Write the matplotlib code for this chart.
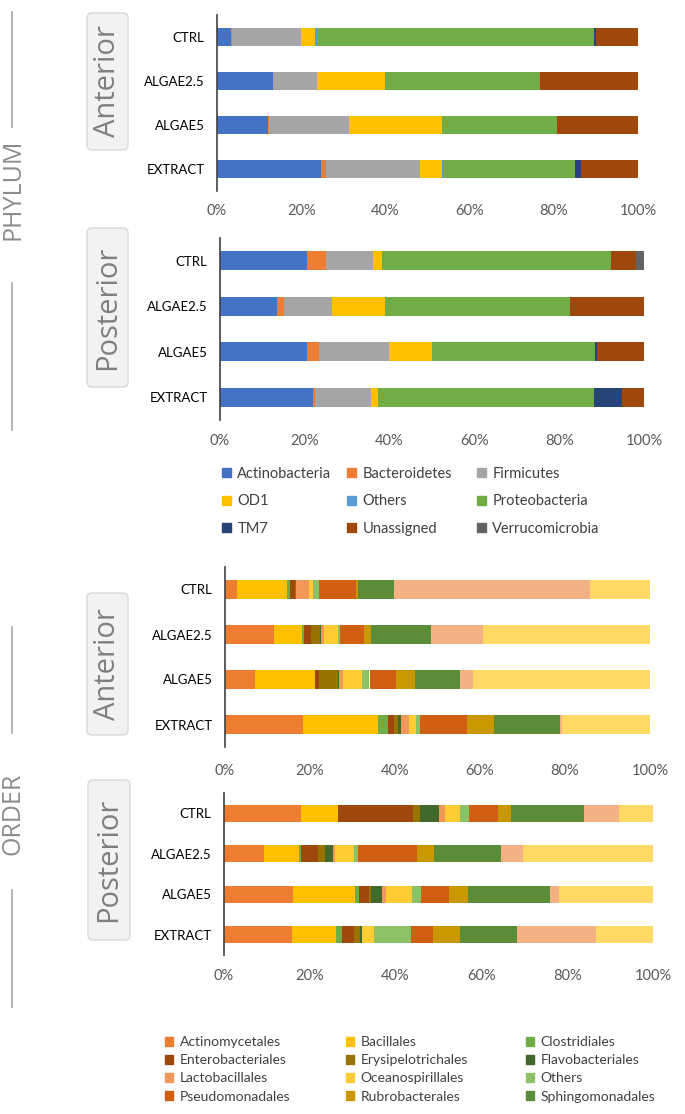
import matplotlib
matplotlib.use("Agg")
import matplotlib.pyplot as plt
from matplotlib.patches import FancyBboxPatch, Patch
from matplotlib.ticker import PercentFormatter
import numpy as np

W, H = 685, 1114

samples = ["CTRL", "ALGAE2.5", "ALGAE5", "EXTRACT"]

# ---- phylum level (% of reads) ----
phyla = ["Actinobacteria", "Bacteroidetes", "Firmicutes", "OD1", "Others",
         "Proteobacteria", "TM7", "Unassigned", "Verrucomicrobia"]
phyla_colors = ["#4472C4", "#ED7D31", "#A5A5A5", "#FFC000", "#5B9BD5",
                "#70AD47", "#264478", "#9E480E", "#636363"]

# rows: CTRL, ALGAE2.5, ALGAE5, EXTRACT ; cols follow `phyla`
phylum_anterior = [
    [3.4, 0.2, 16.3, 3.4, 0.4, 65.8, 0.6, 9.9, 0.0],
    [13.4, 0.0, 10.3, 16.2, 0.0, 36.9, 0.0, 23.2, 0.0],
    [12.0, 0.4, 19.0, 22.0, 0.0, 27.4, 0.0, 19.2, 0.0],
    [24.7, 1.1, 22.5, 5.1, 0.6, 31.0, 1.5, 13.5, 0.0],
]
phylum_posterior = [
    [20.6, 4.3, 11.2, 2.0, 0.0, 54.0, 0.0, 5.9, 2.0],
    [13.5, 1.7, 11.2, 12.6, 0.0, 43.6, 0.0, 17.4, 0.0],
    [20.6, 2.7, 16.6, 10.1, 0.0, 38.5, 0.4, 11.1, 0.0],
    [22.0, 0.4, 13.3, 1.6, 0.0, 51.0, 6.4, 5.3, 0.0],
]

# ---- order level (% of reads) ----
orders = ["Actinomycetales", "Bacillales", "Clostridiales", "Enterobacteriales",
          "Erysipelotrichales", "Flavobacteriales", "Lactobacillales",
          "Oceanospirillales", "Others", "Pseudomonadales", "Rubrobacterales",
          "Sphingomonadales", "Unlisted A", "Unlisted B"]
orders_colors = ["#ED7D31", "#FFC000", "#70AD47", "#9E480E", "#997300", "#43682B",
                 "#F1975A", "#FFCD33", "#8CC168", "#D05F12", "#C99700", "#5B8C3A",
                 "#F4B183", "#FFD966"]
n_order_legend = 12  # legend in the source only lists the first 12

order_anterior = [
    [2.9, 11.8, 0.5, 1.2, 0.2, 0.0, 3.1, 1.1, 1.3, 8.7, 0.5, 8.5, 46.1, 14.1],
    [11.5, 6.7, 0.4, 1.6, 2.2, 0.1, 0.9, 3.1, 0.5, 5.6, 1.7, 14.2, 12.1, 39.4],
    [7.1, 14.0, 0.1, 1.0, 4.3, 0.4, 0.9, 4.5, 1.7, 6.2, 4.5, 10.5, 3.2, 41.6],
    [18.3, 17.6, 2.4, 1.4, 0.9, 0.9, 1.7, 1.7, 1.0, 11.0, 6.4, 15.5, 0.4, 20.8],
]
order_posterior = [
    [17.9, 8.6, 0.0, 17.5, 1.6, 4.5, 1.3, 3.7, 2.0, 6.8, 3.0, 17.0, 8.2, 7.9],
    [9.3, 8.1, 0.6, 4.0, 1.6, 1.7, 0.6, 4.4, 0.9, 13.8, 4.0, 15.6, 5.2, 30.2],
    [16.0, 14.6, 0.9, 2.3, 0.5, 2.6, 0.8, 6.1, 2.2, 6.5, 4.4, 19.1, 2.1, 21.9],
    [15.9, 10.1, 1.4, 2.9, 1.5, 0.4, 0.0, 2.8, 8.7, 5.1, 6.1, 13.3, 18.4, 13.4],
]

SMALL = "Lato"
BIG = "Open Sans"

fig = plt.figure(figsize=(W / 100, H / 100), dpi=100)

# overlay in pixel units for the side labels / boxes
deco = fig.add_axes([0, 0, 1, 1], zorder=0)
deco.set_xlim(0, W)
deco.set_ylim(H, 0)
deco.axis("off")


def px_axes(left, right, top, bottom):
    return fig.add_axes([left / W, 1 - bottom / H, (right - left) / W, (bottom - top) / H], zorder=2)


def stacked(ax, data, colors, xpad):
    data = np.array(data) / 100.0
    y = np.arange(len(samples))
    left = np.zeros(len(samples))
    for j in range(data.shape[1]):
        ax.barh(y, data[:, j], left=left, height=0.41, color=colors[j], linewidth=0)
        left += data[:, j]
    ax.set_xlim(0, 1)
    ax.set_ylim(len(samples) - 0.5, -0.5)
    ax.set_yticks(y)
    ax.set_yticklabels(samples, fontsize=9.5, family=SMALL, color="black")
    ax.set_xticks(np.arange(0, 1.01, 0.2))
    ax.xaxis.set_major_formatter(PercentFormatter(1.0, decimals=0))
    ax.tick_params(axis="x", length=0, pad=xpad, labelsize=10.5, labelcolor="#595959")
    ax.tick_params(axis="y", length=0, pad=9)
    for lab in ax.get_xticklabels():
        lab.set_family(SMALL)
    for s in ["top", "right", "bottom"]:
        ax.spines[s].set_visible(False)
    ax.spines["left"].set_color("#404040")
    ax.spines["left"].set_linewidth(1.2)
    ax.patch.set_alpha(0)


def column_legends(handles, xs, top, size, spacing):
    # one legend per column so the columns sit at fixed x like the Excel legend
    ncol = len(xs)
    for c, x in enumerate(xs):
        fig.legend(handles=handles[c::ncol], loc="upper left",
                   bbox_to_anchor=(x / W, 1 - top / H), ncol=1, frameon=False,
                   borderpad=0, borderaxespad=0,
                   prop={"family": SMALL, "size": size}, labelcolor="#404040",
                   handlelength=0.6, handleheight=0.6, handletextpad=0.45,
                   labelspacing=spacing)


ax1 = px_axes(217, 638, 15, 191)
stacked(ax1, phylum_anterior, phyla_colors, 9.5)
ax2 = px_axes(220, 644, 238, 420)
stacked(ax2, phylum_posterior, phyla_colors, 10)
ax3 = px_axes(225, 650, 567, 747)
stacked(ax3, order_anterior, orders_colors, 12)
ax4 = px_axes(224, 653, 793, 955)
stacked(ax4, order_posterior, orders_colors, 10)

# legends
ph_handles = [Patch(color=c, label=n) for n, c in zip(phyla, phyla_colors)]
column_legends(ph_handles, [222, 347, 477], 467, 10.5, 0.92)

od_handles = [Patch(color=c, label=n) for n, c in
              zip(orders[:n_order_legend], orders_colors[:n_order_legend])]
column_legends(od_handles, [165, 346, 526], 1036, 10, 0.45)

# side boxes: (label, x0, y0, x1, y1)
boxes = [("Anterior", 87, 13, 128, 150), ("Posterior", 87, 228, 128, 387),
         ("Anterior", 87, 593, 128, 735), ("Posterior", 88, 780, 130, 940)]
for txt, x0, y0, x1, y1 in boxes:
    deco.add_patch(FancyBboxPatch((x0 + 5, y0 + 5), x1 - x0 - 10, y1 - y0 - 10,
                                  boxstyle="round,pad=5", facecolor="#F2F2F2",
                                  edgecolor="#D9D9D9", linewidth=1))
    deco.text((x0 + x1) / 2, (y0 + y1) / 2, txt, rotation=90, ha="center", va="center",
              fontsize=21, family=BIG, color="#7F7F7F")

# big group labels with the thin rules above and below
groups = [("PHYLUM", 189, 12, 127, 283, 430), ("ORDER", 814, 627, 733, 890, 1007)]
for txt, yc, a0, a1, b0, b1 in groups:
    deco.text(13, yc, txt, rotation=90, ha="center", va="center",
              fontsize=18, family=BIG, color="#8C8C8C")
    deco.plot([12, 12], [a0, a1], color="#A6A6A6", lw=1.2)
    deco.plot([12, 12], [b0, b1], color="#A6A6A6", lw=1.2)

fig.savefig("out.png", dpi=100, facecolor="white")
